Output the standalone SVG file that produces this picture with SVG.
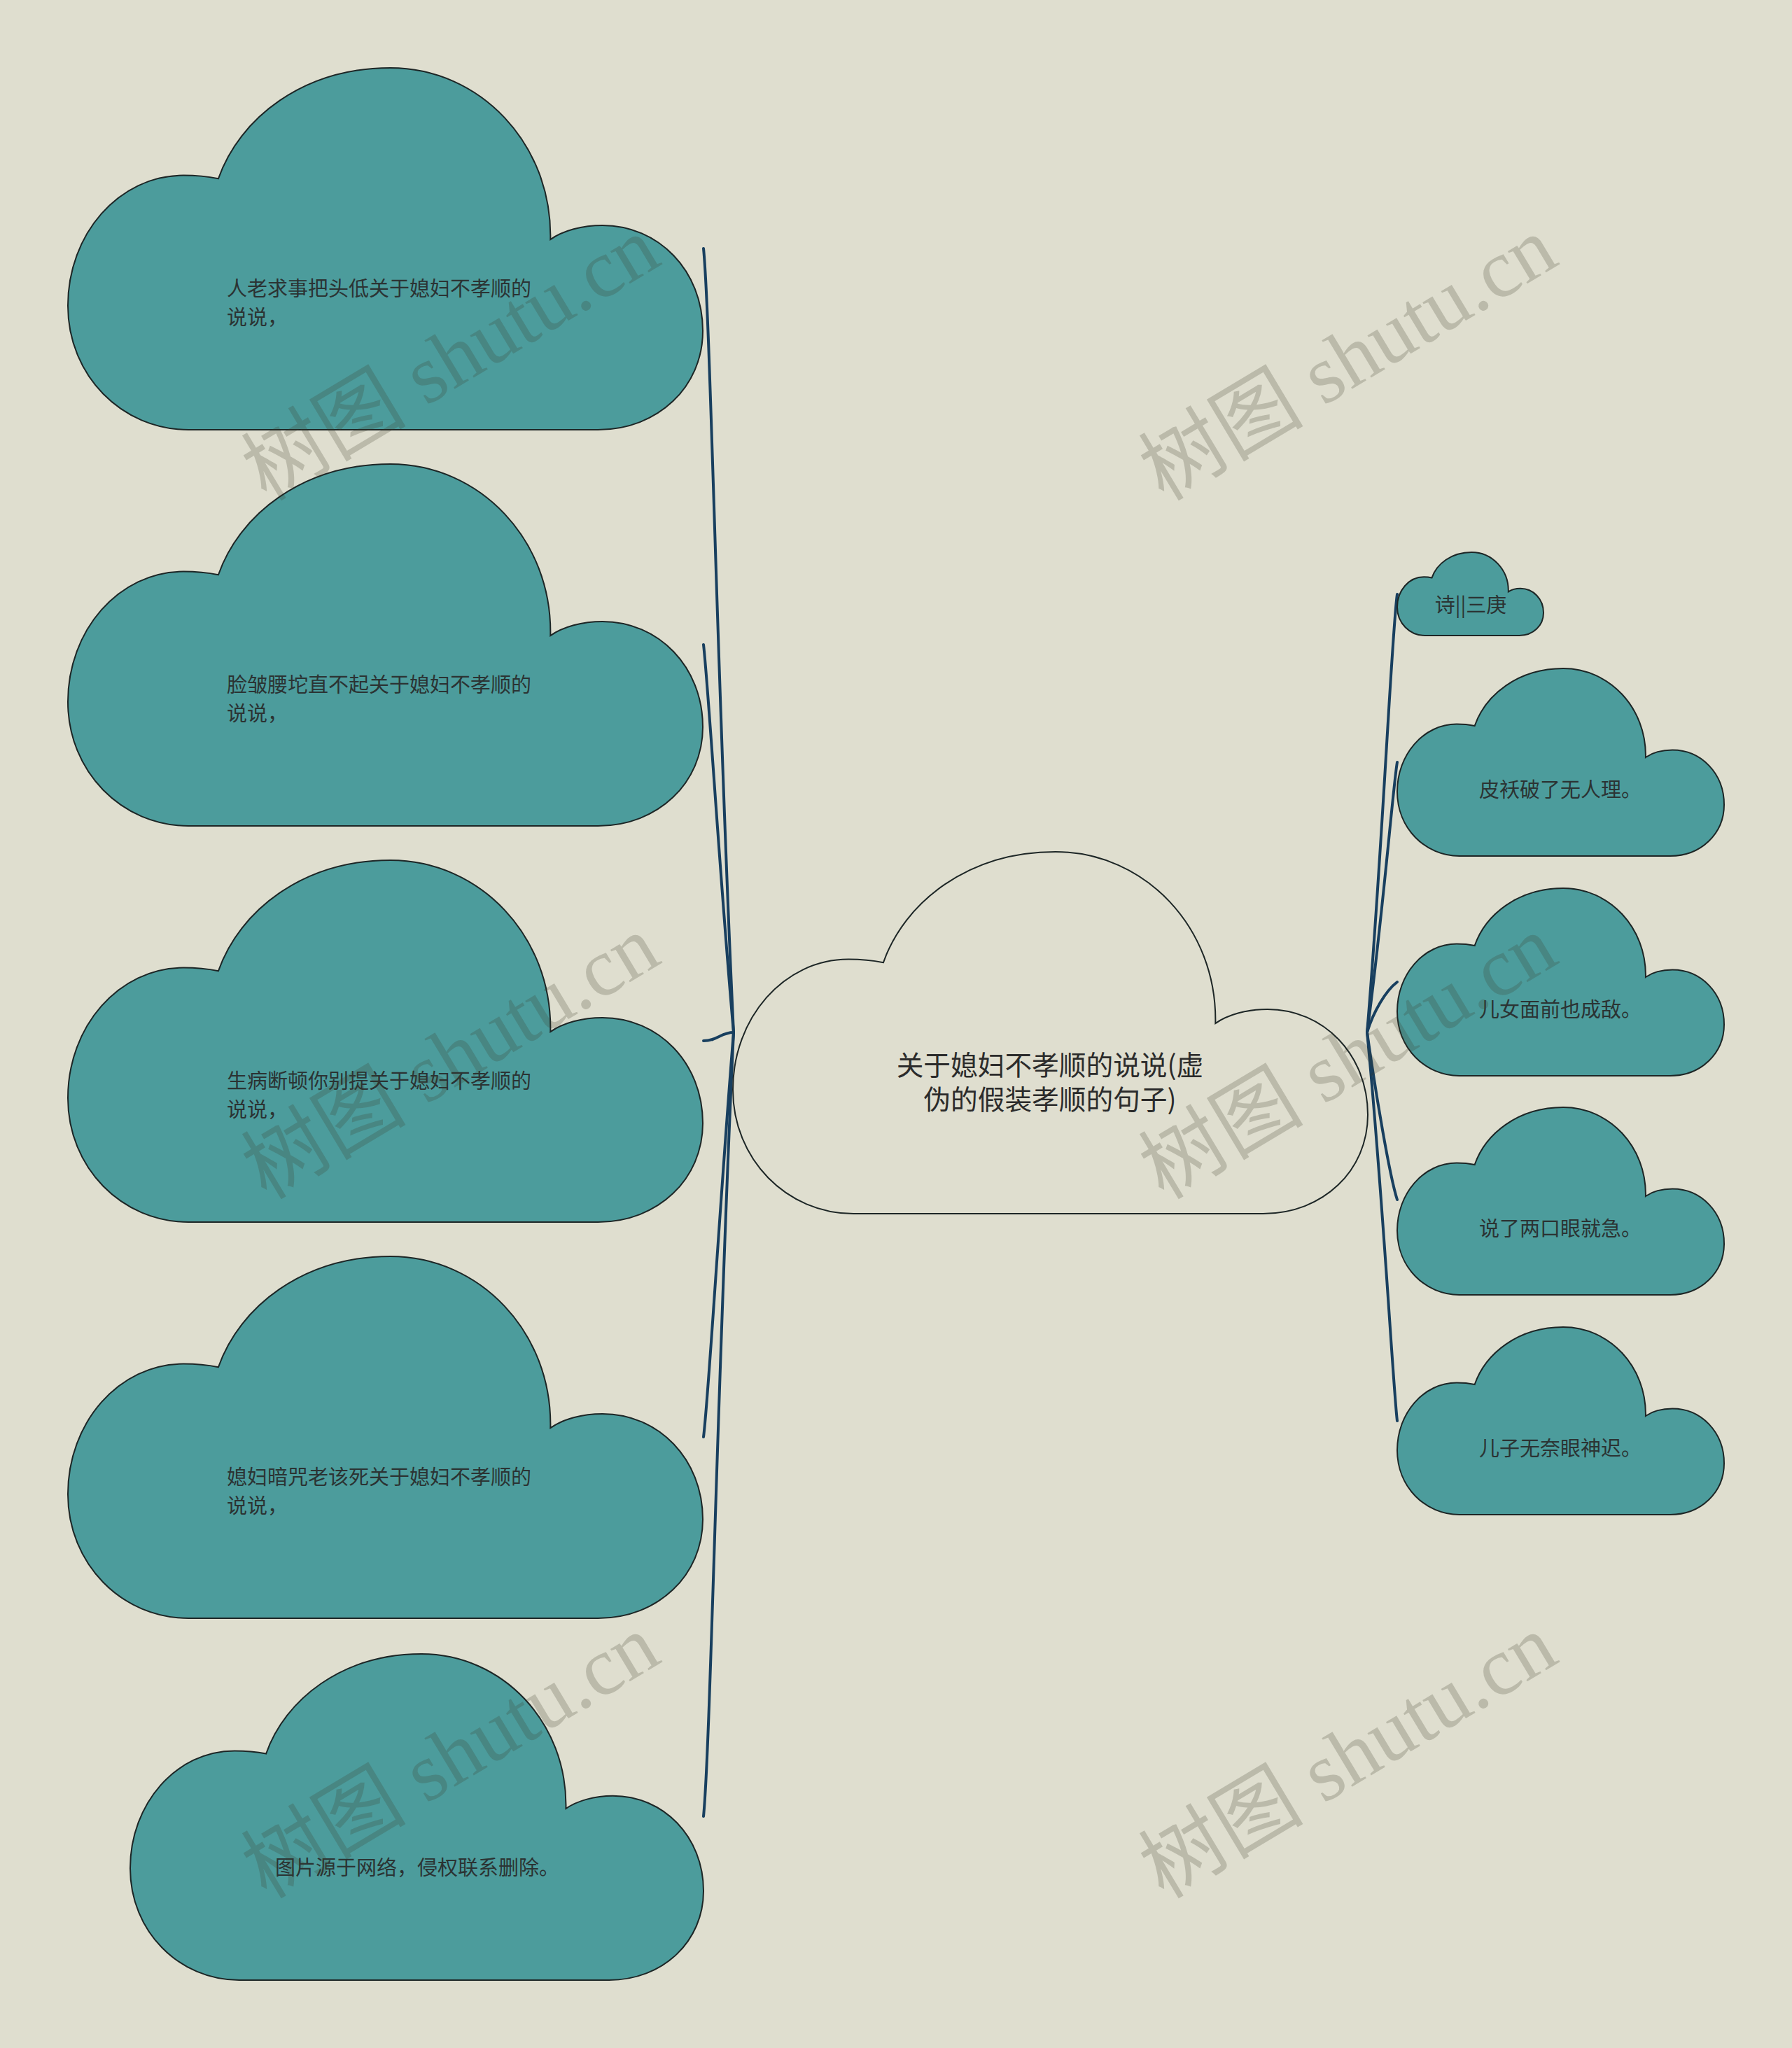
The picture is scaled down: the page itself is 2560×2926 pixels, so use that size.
<svg xmlns="http://www.w3.org/2000/svg" xmlns:xlink="http://www.w3.org/1999/xlink" width="2560" height="2926" viewBox="0 0 2560 2926">
  <style>
    .bg { fill: #dfdecf; }
    .teal { fill: #4c9c9c; stroke: #1d2626; stroke-width: 2; }
    .main { fill: #dfdecf; stroke: #1d2626; stroke-width: 2; }
    .txt { font-family: "Noto Sans CJK SC", "Noto Sans", sans-serif; fill: #2b3333; font-size: 29px; }
    .ctxt { font-family: "Noto Sans CJK SC", "Noto Sans", sans-serif; fill: #2b2b2b; font-size: 38.7px; }
    .conn path { fill: none; stroke: #183f5f; stroke-width: 4; stroke-linecap: round; }
    .wm { font-family: "Liberation Serif", "Noto Sans CJK SC", serif; font-size: 118px; fill: rgb(60,60,40); fill-opacity: 0.22; }
  </style>
  <defs>
    <path id="cloud" vector-effect="non-scaling-stroke" d="M0.19,1 C0.085,1 0,0.85 0,0.657 C0,0.46 0.08,0.297 0.182,0.297 C0.2,0.297 0.22,0.3 0.237,0.306 C0.27,0.14 0.37,0 0.508,0 C0.649,0 0.763,0.21 0.76,0.474 C0.78,0.45 0.81,0.435 0.842,0.435 C0.93,0.435 1,0.56 1,0.727 C1,0.88 0.93,1 0.835,1 Z"/>
  </defs>
  <rect class="bg" x="0" y="0" width="2560" height="2926"/>

  <g id="connectors" class="conn">
    <path d="M1005,355 C1015,455 1025,1000 1048,1475"/>
    <path d="M1005,921 C1012,980 1028,1250 1048,1475"/>
    <path d="M1005,1487 C1025,1487 1030,1475 1048,1475"/>
    <path d="M1005,2053 C1012,2001 1028,1722 1048,1475"/>
    <path d="M1005,2595 C1015,2495 1025,1950 1048,1475"/>
    <path d="M1996,849 C1988,905 1975,1212 1953,1475"/>
    <path d="M1996,1089 C1990,1124 1975,1313 1953,1475"/>
    <path d="M1996,1403 C1980,1415 1962,1445 1953,1475"/>
    <path d="M1996,1714 C1985,1680 1965,1560 1953,1475"/>
    <path d="M1996,2030 C1990,1980 1975,1700 1953,1475"/>
  </g>

  <g id="center">
    <use xlink:href="#cloud" class="main" transform="translate(1047,1217) scale(907,517)"/>
    <text class="ctxt" text-anchor="middle"><tspan x="1500" y="1536">关于媳妇不孝顺的说说(虚</tspan><tspan x="1500" y="1585">伪的假装孝顺的句子)</tspan></text>
  </g>

  <g id="left1">
    <use xlink:href="#cloud" class="teal" transform="translate(97,97) scale(907,517)"/>
    <text class="txt"><tspan x="324" y="423">人老求事把头低关于媳妇不孝顺的</tspan><tspan x="324" y="464">说说，</tspan></text>
  </g>
  <g id="left2">
    <use xlink:href="#cloud" class="teal" transform="translate(97,663) scale(907,517)"/>
    <text class="txt"><tspan x="324" y="989">脸皱腰坨直不起关于媳妇不孝顺的</tspan><tspan x="324" y="1030">说说，</tspan></text>
  </g>
  <g id="left3">
    <use xlink:href="#cloud" class="teal" transform="translate(97,1229) scale(907,517)"/>
    <text class="txt"><tspan x="324" y="1555">生病断顿你别提关于媳妇不孝顺的</tspan><tspan x="324" y="1596">说说，</tspan></text>
  </g>
  <g id="left4">
    <use xlink:href="#cloud" class="teal" transform="translate(97,1795) scale(907,517)"/>
    <text class="txt"><tspan x="324" y="2121">媳妇暗咒老该死关于媳妇不孝顺的</tspan><tspan x="324" y="2162">说说，</tspan></text>
  </g>
  <g id="left5">
    <use xlink:href="#cloud" class="teal" transform="translate(186,2363) scale(819,466)"/>
    <text class="txt" x="393" y="2679">图片源于网络，侵权联系删除。</text>
  </g>

  <g id="right1">
    <use xlink:href="#cloud" class="teal" transform="translate(1996,789) scale(209,119)"/>
    <text class="txt" x="2101" y="875" text-anchor="middle">诗||三庚</text>
  </g>
  <g id="right2">
    <use xlink:href="#cloud" class="teal" transform="translate(1996,955) scale(467,268)"/>
    <text class="txt" x="2229" y="1139" text-anchor="middle">皮袄破了无人理。</text>
  </g>
  <g id="right3">
    <use xlink:href="#cloud" class="teal" transform="translate(1996,1269) scale(467,268)"/>
    <text class="txt" x="2229" y="1453" text-anchor="middle">儿女面前也成敌。</text>
  </g>
  <g id="right4">
    <use xlink:href="#cloud" class="teal" transform="translate(1996,1582) scale(467,268)"/>
    <text class="txt" x="2229" y="1766" text-anchor="middle">说了两口眼就急。</text>
  </g>
  <g id="right5">
    <use xlink:href="#cloud" class="teal" transform="translate(1996,1896) scale(467,268)"/>
    <text class="txt" x="2229" y="2080" text-anchor="middle">儿子无奈眼神迟。</text>
  </g>

  <g id="watermarks">
    <text class="wm" text-anchor="middle" dominant-baseline="central" transform="translate(644,513) rotate(-31)">树图 shutu.cn</text>
    <text class="wm" text-anchor="middle" dominant-baseline="central" transform="translate(1926,513) rotate(-31)">树图 shutu.cn</text>
    <text class="wm" text-anchor="middle" dominant-baseline="central" transform="translate(644,1511) rotate(-31)">树图 shutu.cn</text>
    <text class="wm" text-anchor="middle" dominant-baseline="central" transform="translate(1926,1511) rotate(-31)">树图 shutu.cn</text>
    <text class="wm" text-anchor="middle" dominant-baseline="central" transform="translate(644,2510) rotate(-31)">树图 shutu.cn</text>
    <text class="wm" text-anchor="middle" dominant-baseline="central" transform="translate(1926,2510) rotate(-31)">树图 shutu.cn</text>
  </g>
</svg>
